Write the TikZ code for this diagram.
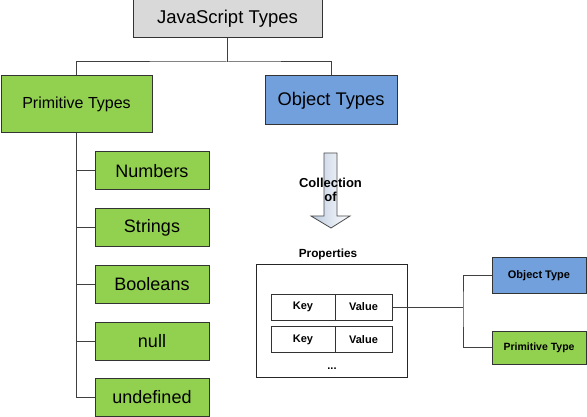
\documentclass[tikz,border=0pt]{standalone}
\usepackage{fontspec}
\setmainfont{Liberation Sans}
\begin{document}
\begin{tikzpicture}[x=1pt,y=-1pt,
  box/.style={draw=black!80,line width=1pt,inner sep=0pt,anchor=center},
  gbox/.style={box,fill=jsgreen},
  bbox/.style={box,fill=jsblue},
  conn/.style={draw=black!75,line width=1pt},
  lab/.style={font=\bfseries\fontsize{11}{13}\selectfont}]
\definecolor{jsgreen}{HTML}{92D050}
\definecolor{jsblue}{HTML}{71A0DC}
\definecolor{jsgray}{HTML}{D9D9D9}
\definecolor{arrowblue}{HTML}{BCCBDF}
\useasboundingbox[fill=white] (0,0) rectangle (587,417);

% top level
\node[box,fill=jsgray,minimum width=189,minimum height=38,font=\fontsize{18.5}{20}\selectfont] (js) at (227.5,19) {JavaScript Types};
\node[gbox,minimum width=151,minimum height=57,font=\fontsize{16}{18}\selectfont] (prim) at (76.5,104.5) {Primitive Types};
\node[bbox,minimum width=132,minimum height=49,font=\fontsize{18.3}{20}\selectfont] (obj) at (331,100.5) {Object Types};
\coordinate (hub) at (227.5,62);
\draw[conn] (js.south) -- (hub);
\draw[conn] (prim.north) |- (hub) -| (obj.north);

% primitive children
\foreach \n/\t/\y in {num/Numbers/171,str/Strings/227.5,boo/Booleans/284,nul/null/341,und/undefined/397.5}{
  \node[gbox,minimum width=114,minimum height=38,font=\fontsize{18}{20}\selectfont] (\n) at (152,\y) {\t};
}
\draw[conn] (prim.south) |- (und.west);
\foreach \n in {num,str,boo,nul}{
  \draw[conn] (prim.south |- \n.west) -- (\n.west);
}

% collection arrow
\shade[left color=arrowblue,right color=white,draw=black!70,line width=0.8pt]
  (324,153) -- (337,153) -- (337,216) -- (350,216) -- (331,228) -- (311,216) -- (324,216) -- cycle;
\node[align=center,font=\bfseries\fontsize{13}{14}\selectfont,inner sep=0pt] (coll) at (330.5,190) {Collection\\of};

% properties
\node[font=\bfseries\fontsize{11.8}{13}\selectfont,inner sep=0pt] (plab) at (328,254) {Properties};
\node[box,draw=black!85,minimum width=151,minimum height=113] (props) at (331.5,320.5) {};
\node[box,lab,minimum width=64,minimum height=26] (k1) at (303,307) {Key};
\node[box,lab,minimum width=57,minimum height=26] (v1) at (363.5,307) {Value};
\node[box,lab,minimum width=64,minimum height=26] (k2) at (303,339.5) {Key};
\node[box,lab,minimum width=57,minimum height=26] (v2) at (363.5,339.5) {Value};
\node[lab,inner sep=0pt] (dots) at (332,369) {...};

% value types
\node[bbox,lab,minimum width=94,minimum height=35] (ot) at (539,275.5) {Object Type};
\node[gbox,lab,font=\bfseries\fontsize{10.5}{12}\selectfont,minimum width=94,minimum height=33] (pt) at (539,347.5) {Primitive Type};
\coordinate (junc) at (463,307);
\draw[conn] (v1.east) -- (junc);
\draw[conn] (ot.west) -| (junc) |- (pt.west);
\end{tikzpicture}
\end{document}
